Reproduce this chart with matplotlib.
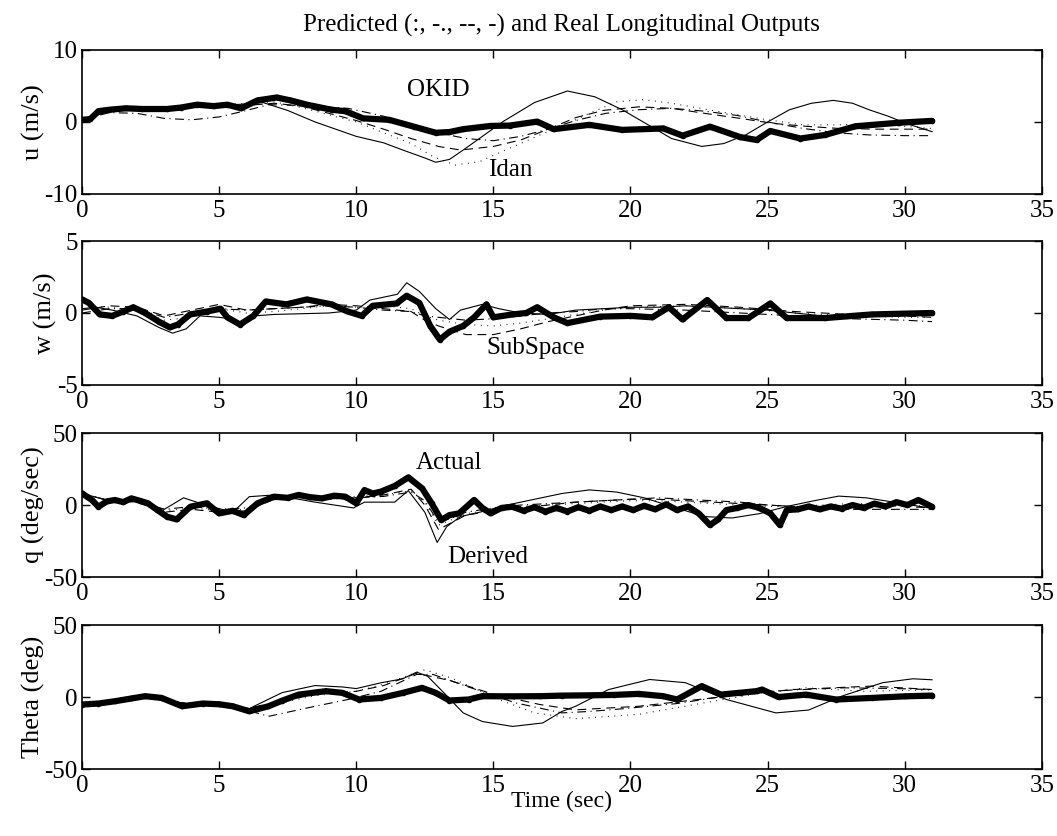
import matplotlib
matplotlib.use('Agg')
import matplotlib.pyplot as plt

plt.rcParams['font.family'] = ['Liberation Serif', 'DejaVu Serif']
plt.rcParams['font.size'] = 18
plt.rcParams['axes.unicode_minus'] = False

# ---- u (m/s) ----
u_act_t = [0, 0.3, 0.6, 1.0, 1.6, 2.2, 3.1, 3.6, 4.2, 4.8, 5.3, 5.8, 6.4, 7.1, 7.6, 8.2, 9.1, 9.6, 10.25,
           11.2, 12.1, 12.9, 13.4, 13.9, 14.9, 15.6, 16.6, 17.2, 18.5, 19.7, 21.2, 21.9, 22.9, 24.0, 24.6,
           25.1, 26.2, 27.1, 28.2, 29.8, 31.0]
u_act = [0.3, 0.4, 1.5, 1.7, 1.9, 1.8, 1.8, 2.0, 2.4, 2.2, 2.4, 1.9, 3.0, 3.4, 3.0, 2.4, 1.7, 1.5, 0.5,
         0.3, -0.65, -1.5, -1.4, -1.0, -0.55, -0.5, 0.05, -1.0, -0.4, -1.1, -0.9, -1.9, -0.65, -2.1, -2.5,
         -1.25, -2.3, -1.8, -0.6, -0.1, 0.15]
u_sol_t = [0, 1, 2, 3, 4, 5, 6, 6.6, 7.5, 8.5, 10, 11, 11.7, 12.5, 12.9, 13.4, 13.9, 14.6, 15.35, 16.5,
           17.7, 18.7, 19.7, 20.6, 21.5, 22.6, 23.4, 24.2, 25.0, 25.8, 26.6, 27.4, 28.1, 28.7, 29.4, 30.05, 31.0]
u_sol = [0.3, 1.6, 1.9, 2.0, 2.2, 2.3, 2.5, 2.7, 1.6, 0.0, -2.0, -2.9, -3.9, -5.0, -5.6, -5.2, -3.9, -2.0,
         0.05, 2.7, 4.3, 3.5, 1.7, -0.3, -2.3, -3.4, -3.0, -1.8, 0.0, 1.7, 2.6, 3.0, 2.6, 1.7, 0.8, -0.2, -1.35]
u_dot_t = [0, 1, 2, 3, 4, 5, 6, 7, 8, 9, 10, 11, 12, 12.8, 13.6, 14.5, 15.5, 16.7, 17.5, 18.5, 19.5, 20.5,
           21.5, 22.7, 23.9, 25, 26.3, 27.5, 28.7, 30, 31]
u_dot = [0.3, 1.6, 1.9, 2.0, 2.1, 2.3, 2.6, 2.8, 2.0, 1.0, 0.0, -1.5, -3.0, -4.8, -6.0, -5.5, -3.8, -1.8,
         -0.6, 1.2, 2.8, 3.1, 2.6, 1.8, 1.0, 0.3, -0.4, -0.4, -0.3, -0.6, -0.9]
u_dd_t = [0, 1, 2, 3, 4, 5, 6, 6.8, 8, 9.7, 11, 12, 13, 14, 15, 16, 17, 18, 19.1, 20.3, 21.5, 22.7, 23.9,
          25, 26.3, 27.5, 28.7, 30, 31]
u_dd = [0.3, 1.3, 1.2, 0.5, 0.3, 0.7, 1.6, 2.4, 2.3, 1.9, 0.8, -0.4, -1.5, -2.3, -2.6, -2.0, -1.0, 0.2,
        1.2, 1.7, 1.9, 1.5, 0.9, 0.0, -0.9, -1.5, -1.8, -1.9, -1.9]
u_da_t = [0, 1, 2, 3, 4, 5, 6, 7, 8, 9, 10, 11, 12, 13, 13.8, 15, 16, 17, 18, 19, 20.3, 21.5, 22.7, 24,
          25.2, 26.4, 27.6, 29, 30, 31]
u_da = [0.3, 1.5, 1.8, 1.9, 2.0, 2.1, 2.3, 2.6, 2.2, 1.2, 0.2, -1.0, -2.3, -3.4, -3.9, -3.4, -2.5, -1.0,
        0.6, 1.6, 2.1, 1.9, 1.2, 0.5, -0.2, -0.6, -0.9, -1.0, -1.0, -1.0]

# ---- w (m/s) ----
w_act_t = [0, 0.25, 0.65, 1.1, 1.5, 1.87, 2.3, 2.8, 3.2, 3.5, 3.94, 4.55, 5.05, 5.3, 5.76, 6.25, 6.7, 7.45,
           8.2, 9.1, 9.65, 10.2, 10.6, 11.47, 11.84, 12.3, 12.7, 13.05, 13.4, 13.9, 14.3, 14.75, 15.0, 15.7,
           16.2, 16.6, 17.2, 17.7, 18.9, 20.0, 20.8, 21.4, 21.9, 22.8, 23.5, 24.3, 25.1, 25.7, 27.1, 28.8, 31.0]
w_act = [0.94, 0.7, -0.1, -0.2, 0.1, 0.4, 0.0, -0.6, -1.0, -0.8, -0.1, 0.1, 0.3, -0.3, -0.8, -0.2, 0.8, 0.6,
         0.94, 0.6, 0.13, -0.2, 0.5, 0.66, 1.2, 0.7, -0.9, -1.85, -1.3, -0.9, -0.3, 0.6, -0.3, -0.1,
         0.0, 0.4, -0.3, -0.7, -0.25, -0.2, -0.3, 0.4, -0.45, 0.9, -0.35, -0.35, 0.66, -0.35, -0.35, -0.1, 0.0]
w_sol_t = [0, 0.5, 1.1, 2, 2.8, 3.3, 3.8, 4.3, 5, 5.4, 5.8, 6.3, 7, 8, 9, 10, 10.5, 11, 11.5, 11.84, 12.3,
           12.9, 13.4, 13.8, 14.6, 15.2, 16, 17, 18, 19, 20, 21, 22, 23, 24, 25, 26, 27, 28, 29, 30, 31]
w_sol = [0.3, 0.4, 0.2, -0.2, -1.0, -1.4, -1.1, -0.2, -0.3, -0.4, -1.0, -0.2, -0.1, -0.05, 0.0, 0.2, 0.9,
         1.1, 1.3, 2.1, 1.5, 0.3, -0.45, 0.2, 0.6, 0.3, 0.0, -0.1, 0.2, 0.3, 0.4, 0.4, 0.5, 0.4, 0.3, 0.2,
         0.0, -0.2, -0.1, 0.0, 0.1, 0.1]
w_p_t = [0, 1, 2, 3, 4, 5, 6, 7, 8, 9, 10, 11, 12, 12.5, 13, 14, 15, 16, 17, 18, 19, 20, 22, 24, 26, 28, 30, 31]
w_dot = [0.5, 0.4, 0.2, -0.5, -0.3, 0.3, 0.0, 0.1, 0.3, 0.5, 0.4, 0.5, 0.3, -0.2, -0.5, -0.8, -0.9, -0.7,
         -0.4, -0.1, 0.2, 0.4, 0.5, 0.3, 0.0, -0.2, -0.3, -0.3]
w_da = [0.2, 0.5, 0.4, -0.2, 0.2, 0.6, 0.2, 0.3, 0.4, 0.6, 0.5, 0.3, 0.1, -0.5, -0.9, -1.5, -1.5, -1.1,
        -0.6, -0.2, 0.2, 0.5, 0.6, 0.4, 0.1, -0.1, -0.2, -0.3]
w_dd = [0.0, 0.3, 0.3, -0.3, 0.0, 0.3, 0.2, 0.3, 0.4, 0.5, 0.4, 0.2, 0.1, -0.2, -0.3, -0.5, -0.4, -0.2,
        0.0, 0.1, 0.3, 0.3, 0.2, 0.0, -0.2, -0.4, -0.5, -0.6]

# ---- q (deg/sec) ----
q_act_t = [0, 0.36, 0.6, 0.9, 1.2, 1.5, 1.8, 2.1, 2.4, 2.75, 3.1, 3.45, 3.95, 4.55, 5.0, 5.5, 5.9, 6.4, 7.0,
           7.5, 7.9, 8.3, 8.75, 9.2, 9.6, 10.0, 10.3, 10.6, 10.9, 11.4, 11.9, 12.4, 12.75, 13.1, 13.4, 13.75,
           14.3, 14.6, 14.9, 15.3, 15.7, 16.1, 16.5, 16.9, 17.3, 17.7, 18.1, 18.5, 18.9, 19.3, 19.7, 20.1,
           20.5, 20.9, 21.3, 21.7, 22.1, 22.5, 22.9, 23.2, 23.5, 23.9, 24.3, 24.7, 25.1, 25.45, 25.7, 26.1,
           26.5, 26.9, 27.3, 27.7, 28.1, 28.5, 28.9, 29.3, 29.7, 30.1, 30.5, 31.0]
q_act = [8.1, 3.5, -1.2, 2.5, 3.5, 2.0, 4.6, 3.0, 1.2, -3.5, -8.1, -10, -1.2, 1.2, -5.8, -4.0, -7.0, 1.2, 5.8,
         5.0, 7.0, 5.5, 4.6, 6.5, 5.8, 1.2, 10.4, 8.0, 9.3, 13.2, 19.2, 11.6, 1.2, -10.4, -7.0, -5.8,
         3.5, -2.0, -5.8, -2.0, -1.2, -4.0, -1.5, -4.6, -2.0, -4.5, -1.5, -4.0, -1.0, -3.5, -1.0, -3.5,
         -0.5, -3.0, 0.5, -3.5, -1.0, -6.0, -13.9, -10.0, -3.5, -2.0, 0.0, -2.0, -5.8, -13.9, -3.5, -3.0,
         -1.0, -3.0, -1.0, -2.5, 0.0, -2.0, 1.0, -1.0, 2.0, 0.0, 3.5, -1.2]
q_sol_t = [0, 1, 2, 3, 3.7, 4.5, 5.5, 6.1, 7, 8.5, 9.9, 10.3, 11.4, 11.9, 12.5, 12.95, 13.3, 13.8, 14.5,
           15.5, 16.5, 17.5, 18.5, 19.5, 20.5, 21.5, 22.7, 23.7, 24.7, 25.7, 26.7, 27.6, 28.6, 29.6, 30.4, 31]
q_sol = [8, 3, 3, -3, 5, 0, -5, 5.8, 7, 2, -2, 2, 2, 10, -5, -26, -15, -8, -5, 0, 4, 8, 10.5, 9, 5, -1, -8,
         -9, -6, -1, 3, 6.2, 5, 2, -0.5, -2.3]
q_p_t = [0, 1, 2, 3, 4, 5, 6, 7, 8, 9, 10, 11, 12, 12.5, 13, 13.5, 14, 15, 16, 17, 18, 19, 20, 21, 22, 23,
         24, 25, 26, 27, 28, 29, 30, 31]
q_dot = [8, 3, 3, -4, -2, -4, -3, 5, 6, 5, 6, 7, 10, 2, -14, -10, -6, -3, -1, 0, 1, 2, 3, 3, 2, 1, 0, -1,
         -1, 0, 1, 1, 0, -1]
q_da = [8, 3, 2, -5, -3, -5, -4, 4, 6, 5, 5, 7, 11, 0, -17, -12, -7, -4, -2, 0, 2, 3, 4, 4, 3, 2, 1, 0,
        -1, -1, 0, 0, -1, -2]
q_dd = [8, 3, 3, -3, -1, -3, -2, 5, 6, 4, 5, 6, 9, 3, -12, -9, -5, -2, 0, 1, 2, 3, 4, 5, 4, 3, 2, 0, -1,
        -2, -3, -3, -3, -3]

# ---- Theta (deg) ----
th_act_t = [0, 0.6, 1.2, 1.8, 2.3, 2.9, 3.65, 4.4, 5.0, 5.5, 6.1, 6.8, 7.3, 7.9, 8.9, 9.5, 10.1, 10.9, 11.7,
            12.4, 12.9, 13.4, 14.1, 14.6, 15.5, 16.7, 17.5, 18.5, 19.4, 20.3, 21.2, 21.7, 22.6, 23.3, 24.0,
            24.6, 24.8, 25.4, 26.4, 27.5, 28.8, 30.0, 31.0]
th_act = [-5.2, -4.5, -2.9, -1.0, 0.6, -0.6, -6.4, -4.5, -5.0, -6.4, -9.9, -6.4, -2.5, 1.7, 4.1, 2.9, -1.7,
          -0.6, 2.9, 6.4, 2.9, -2.4, -1.7, 0.6, 0.5, 0.6, 1.0, 1.2, 1.5, 2.2, 0.6, -1.7, 7.6, 1.7, 3.0,
          4.1, 5.2, 0.0, 1.7, -1.7, -0.6, 0.5, 1.0]
th_sol_t = [0, 2, 4, 5, 6.1, 7.3, 8.5, 9.5, 10.0, 10.9, 11.7, 12.2, 12.6, 13.2, 13.9, 14.6, 15.7, 16.8, 17.5,
            18.0, 19.2, 20.7, 22.0, 23.5, 25.3, 26.5, 27.7, 29.2, 30.3, 31]
th_sol = [-5, 0.5, -5, -5.5, -8, 3.1, 8.0, 7.0, 5.9, 9.9, 12.7, 17.3, 14.5, 2.9, -11, -17, -20.4, -18, -10,
          -6.4, 5.2, 12.2, 10, -1.7, -11, -9, 0.6, 10, 12.7, 12]
th_dd_t = [0, 2, 4, 5, 6, 6.8, 8.5, 9.7, 10.9, 12.2, 12.8, 14.0, 15.8, 17.5, 18.5, 19.8, 21.7, 24.2, 26,
           27.8, 29.5, 31]
th_dd = [-5, 0.5, -5, -6, -9, -13.4, -6.4, -1.7, 4, 15.7, 15.7, 7.6, -4, -11, -10, -8, -4.5, 2.9, 5, 6.4,
         6, 5.2]
th_da_t = [0, 2, 4, 5, 6, 7, 8.5, 10, 11, 12.2, 13.4, 15, 16.7, 18, 20.3, 22.7, 25.9, 28.8, 31]
th_da = [-5, 0.5, -5, -6, -8, -4, 2, 4, 8, 16.5, 11.6, 2, -5.2, -8.9, -6.4, -1.2, 5.2, 7.6, 5.2]
th_dot_t = [0, 2, 4, 5, 6, 7, 8.5, 10, 11, 12.5, 13.5, 15.2, 16.5, 18, 20.3, 22.7, 24.5, 26.4, 28.5, 31]
th_dot = [-5, 0.5, -5, -6, -9, -5, 1, 4, 9, 19, 13, -1.7, -11, -15, -12, -4, 2, 6.4, 4, 5]

panels = [
    ('u (m/s)', 10, [(u_dot_t, u_dot), (u_dd_t, u_dd), (u_da_t, u_da), (u_sol_t, u_sol)], (u_act_t, u_act)),
    ('w (m/s)', 5, [(w_p_t, w_dot), (w_p_t, w_dd), (w_p_t, w_da), (w_sol_t, w_sol)], (w_act_t, w_act)),
    ('q (deg/sec)', 50, [(q_p_t, q_dot), (q_p_t, q_dd), (q_p_t, q_da), (q_sol_t, q_sol)], (q_act_t, q_act)),
    ('Theta (deg)', 50, [(th_dot_t, th_dot), (th_dd_t, th_dd), (th_da_t, th_da), (th_sol_t, th_sol)], (th_act_t, th_act)),
]

# MATLAB-like line styles for  :, -., --, -
dash_styles = [(0, (0.8, 5)), (0, (8, 4, 1, 4)), (0, (8, 5)), '-']

fig = plt.figure(figsize=(10.57, 8.36), dpi=100)
bottoms = [0.768, 0.5395, 0.3098, 0.0801]
axes = []
for i, (ylab, lim, preds, actual) in enumerate(panels):
    ax = fig.add_axes([0.0776, bottoms[i], 0.908, 0.1722])
    for (tt, yy), ls in zip(preds, dash_styles):
        ax.plot(tt, yy, color='k', lw=0.8, linestyle=ls)
    ax.plot(actual[0], actual[1], color='k', lw=4.5, marker='o', ms=3, solid_capstyle='round',
            solid_joinstyle='round')
    ax.set_xlim(0, 35)
    ax.set_ylim(-lim, lim)
    ax.set_xticks(range(0, 36, 5))
    ax.set_yticks([-lim, 0, lim])
    ax.tick_params(direction='in', length=6, width=1, top=True, right=True, labelsize=18)
    ax.tick_params(axis='x', pad=4)
    ax.tick_params(axis='y', pad=3)
    for s in ax.spines.values():
        s.set_linewidth(1.2)
    ax.set_ylabel(ylab, fontsize=19, labelpad=0)
    axes.append(ax)

axes[0].set_title('Predicted (:, -., --, -) and Real Longitudinal Outputs', fontsize=18, pad=13)
axes[3].set_xlabel('Time (sec)', fontsize=17, labelpad=-4)

axes[0].text(13.0, 4.4, 'OKID', ha='center', va='center', fontsize=18)
axes[0].text(15.6, -6.7, 'Idan', ha='center', va='center', fontsize=18)
axes[1].text(16.55, -2.4, 'SubSpace', ha='center', va='center', fontsize=18)
axes[2].text(13.4, 29, 'Actual', ha='center', va='center', fontsize=18)
axes[2].text(14.8, -36, 'Derived', ha='center', va='center', fontsize=18)

fig.savefig('out.png', dpi=100)
